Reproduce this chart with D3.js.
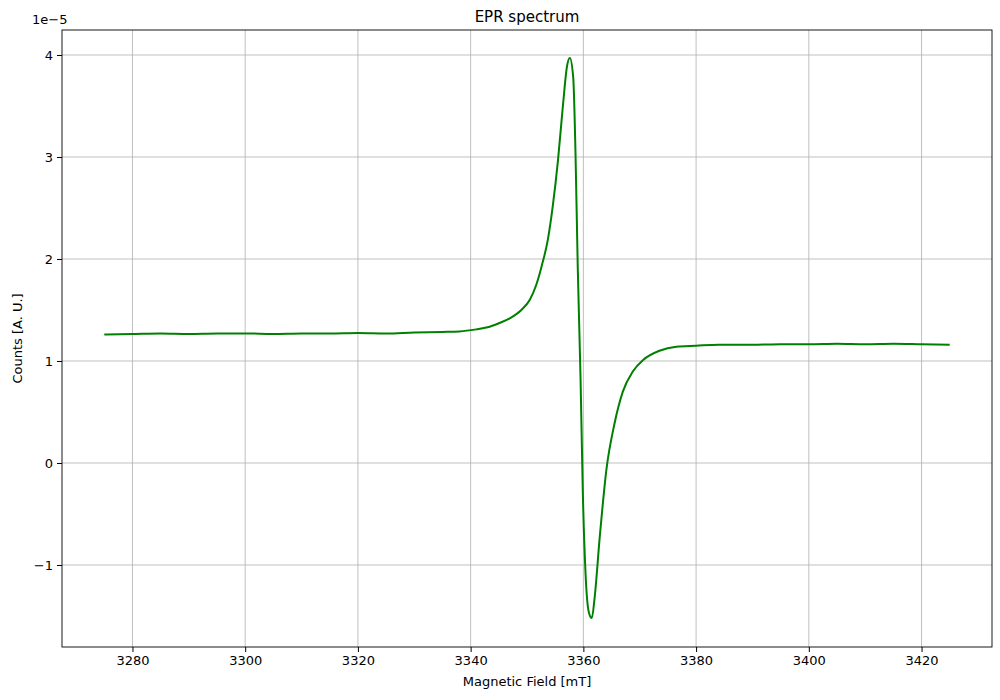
<!DOCTYPE html><html><head><meta charset="utf-8"><script src="https://cdn.jsdelivr.net/npm/d3@7"></script>
<style>body{margin:0;background:#fff}text{font-family:"DejaVu Sans",sans-serif}</style></head><body>
<svg id="c" width="1000" height="700"></svg>
<script>
const fieldValues=[3275,3280,3285,3290,3295,3300,3305,3310,3315,3320,3325,3330,3335,3338,3341,3343,3345,3347,3349,3350.5,3351.6,3352.6,3353.7,3354.6,3355.5,3356.4,3357.1,3357.6,3358.2,3358.6,3359,3359.5,3359.9,3360.4,3361,3361.5,3362,3362.9,3364.1,3365.5,3367,3368.8,3370.6,3373.5,3376.5,3380,3384,3390,3395,3400,3405,3410,3415,3420,3425];
const countValues=[1.26,1.265,1.27,1.265,1.27,1.27,1.265,1.27,1.27,1.275,1.27,1.28,1.285,1.29,1.31,1.33,1.37,1.42,1.5,1.6,1.74,1.93,2.19,2.53,2.97,3.52,3.89,3.97,3.78,3.05,1.93,0.83,-0.28,-1.1,-1.47,-1.52,-1.32,-0.73,-0.06,0.38,0.7,0.9,1.01,1.1,1.14,1.15,1.16,1.16,1.165,1.165,1.17,1.165,1.17,1.165,1.16];
const xTicks=[3280,3300,3320,3340,3360,3380,3400,3420];
const yTicks=[-1,0,1,2,3,4];
const svg=d3.select("#c");
const L=62,R=992,T=30,B=647;
const x=d3.scaleLinear().domain([3267.5,3432.5]).range([L,R]);
const y=d3.scaleLinear().domain([-1.804,4.245]).range([B,T]);
const g=svg.append("g");
g.selectAll(".vx").data(xTicks).join("line").attr("x1",d=>x(d)).attr("x2",d=>x(d)).attr("y1",T).attr("y2",B).attr("stroke","#b0b0b0").attr("stroke-width",0.8);
g.selectAll(".hy").data(yTicks).join("line").attr("y1",d=>y(d)).attr("y2",d=>y(d)).attr("x1",L).attr("x2",R).attr("stroke","#b0b0b0").attr("stroke-width",0.8);
const pts=fieldValues.map((f,i)=>[f,countValues[i]]);
svg.append("path").datum(pts).attr("fill","none").attr("stroke","green").attr("stroke-width",2)
 .attr("d",d3.line().x(d=>x(d[0])).y(d=>y(d[1])).curve(d3.curveMonotoneX));
const xa=svg.append("g").attr("transform",`translate(0,${B})`).call(d3.axisBottom(x).tickValues(xTicks).tickFormat(d3.format("d")).tickSizeOuter(0).tickSize(5).tickPadding(4));
const ya=svg.append("g").attr("transform",`translate(${L},0)`).call(d3.axisLeft(y).tickValues(yTicks).tickFormat(d=>d<0?"\u2212"+(-d):d).tickSizeOuter(0).tickSize(5).tickPadding(4));
[xa,ya].forEach(a=>{a.selectAll("text").attr("font-size",13).attr("fill","#000");a.select(".domain").remove();});
svg.append("rect").attr("x",L).attr("y",T).attr("width",R-L).attr("height",B-T).attr("fill","none").attr("stroke","#000").attr("stroke-width",0.9);
svg.append("text").attr("x",(L+R)/2).attr("y",22).attr("text-anchor","middle").attr("font-size",15).text("EPR spectrum");
svg.append("text").attr("x",(L+R)/2).attr("y",686).attr("text-anchor","middle").attr("font-size",13).text("Magnetic Field [mT]");
svg.append("text").attr("transform",`translate(22,${(T+B)/2}) rotate(-90)`).attr("text-anchor","middle").attr("font-size",13).text("Counts [A. U.]");
svg.append("text").attr("x",L-30).attr("y",24).attr("font-size",13).text("1e\u22125");
</script></body></html>
